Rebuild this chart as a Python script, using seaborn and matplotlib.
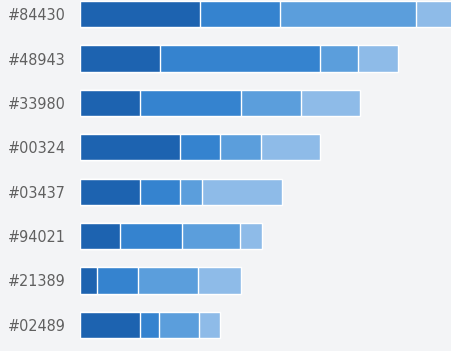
import numpy as np
import pandas as pd
import matplotlib.pyplot as plt
import seaborn as sns

# identifiers, top to bottom
ids = ["#84430", "#48943", "#33980", "#00324", "#03437", "#94021", "#21389", "#02489"]

# four stacked segments per bar
seg1 = [120, 80, 60, 100, 60, 40, 17, 60]
seg2 = [80, 160, 101, 40, 40, 62, 41, 19]
seg3 = [136, 38, 60, 41, 22, 58, 60, 40]
seg4 = [45, 40, 59, 59, 80, 22, 43, 21]

colors = ["#1d63b0", "#3583cf", "#5b9edc", "#8ebbe8"]

sns.set_theme(style="white")
plt.rcParams["font.family"] = ["DejaVu Sans"]

df = pd.DataFrame({"id": ids, "s1": seg1, "s2": seg2, "s3": seg3, "s4": seg4})
df["c1"] = df["s1"]
df["c2"] = df["c1"] + df["s2"]
df["c3"] = df["c2"] + df["s3"]
df["c4"] = df["c3"] + df["s4"]

fig = plt.figure(figsize=(4.52, 3.51), dpi=100, facecolor="#f3f4f6")
ax = fig.add_axes([80 / 452, 4 / 351, 372 / 452, 355 / 351])
ax.set_facecolor("#f3f4f6")

# draw the longest cumulative bar first, shorter ones on top
for col, color in zip(["c4", "c3", "c2", "c1"], colors[::-1]):
    sns.barplot(data=df, y="id", x=col, orient="h", color=color,
                width=0.59, saturation=1, ax=ax)

ax.set_xlim(0, 372)
ax.set_ylim(7.5, -0.5)
ax.set_xlabel("")
ax.set_ylabel("")
ax.set_xticks([])
ax.tick_params(axis="y", length=0, pad=10, labelsize=11.5, labelcolor="#606060")
for lab in ax.get_yticklabels():
    lab.set_fontstretch("condensed")
sns.despine(ax=ax, left=True, bottom=True)

fig.savefig("out.png", dpi=100, facecolor=fig.get_facecolor())
